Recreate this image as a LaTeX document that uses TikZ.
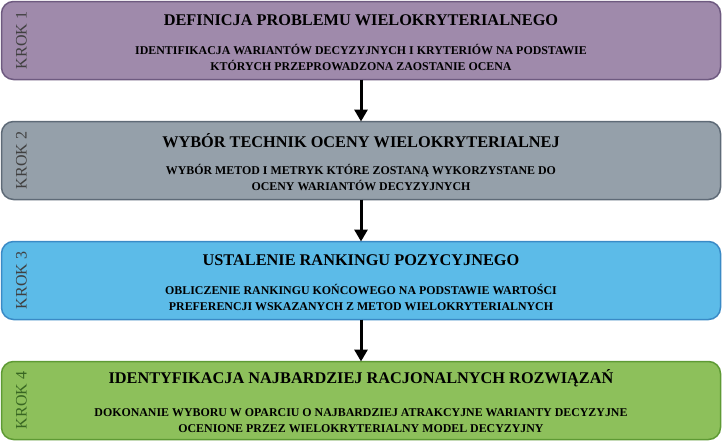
\documentclass[tikz,border=0pt]{standalone}
\usepackage{fontspec}
\setmainfont{Liberation Serif}
\usetikzlibrary{arrows.meta, positioning}

\definecolor{krokA}{HTML}{9F8AAB}
\definecolor{krokAline}{HTML}{6E5A80}
\definecolor{krokB}{HTML}{95A0AA}
\definecolor{krokBline}{HTML}{5E6A77}
\definecolor{krokC}{HTML}{5CBBE8}
\definecolor{krokCline}{HTML}{3A8AC6}
\definecolor{krokD}{HTML}{8DC05B}
\definecolor{krokDline}{HTML}{5E9A34}
\definecolor{krokgray}{HTML}{404040}
\definecolor{krokgreen}{HTML}{386622}

\begin{document}
\begin{tikzpicture}[
    x=1pt, y=1pt,
    node distance=42pt,
    stage/.style={draw, line width=1.5pt, rounded corners=12pt, minimum width=719pt, minimum height=78pt, outer sep=0pt},
    title/.style={font=\bfseries\fontsize{16.3}{19}\selectfont, anchor=center},
    detail/.style={font=\bfseries\fontsize{11.9}{16.5}\selectfont, align=center, anchor=center},
    krok/.style={rotate=90, font=\fontsize{16}{19}\selectfont, text=krokgray},
    arrow/.style={-{Triangle[width=13pt, length=12pt]}, line width=3pt}
]
\useasboundingbox (0,0) rectangle (722,-442);

\node[stage, fill=krokA, draw=krokAline] (step1) at (361,-40.5) {};
\node[stage, fill=krokB, draw=krokBline, below=of step1] (step2) {};
\node[stage, fill=krokC, draw=krokCline, below=of step2] (step3) {};
\node[stage, fill=krokD, draw=krokDline, below=of step3] (step4) {};

\node[krok] (krok1) at ([xshift=20pt]step1.west) {KROK 1};
\node[krok] (krok2) at ([xshift=20pt]step2.west) {KROK 2};
\node[krok] (krok3) at ([xshift=20pt]step3.west) {KROK 3};
\node[krok, text=krokgreen] (krok4) at ([xshift=20pt]step4.west) {KROK 4};

\node[title] (title1) at ([yshift=-19pt]step1.north) {DEFINICJA PROBLEMU WIELOKRYTERIALNEGO};
\node[detail] (detail1) at ([yshift=-56pt]step1.north) {IDENTIFIKACJA WARIANTÓW DECYZYJNYCH I KRYTERIÓW NA PODSTAWIE\\KTÓRYCH PRZEPROWADZONA ZAOSTANIE OCENA};

\node[title] (title2) at ([yshift=-19pt]step2.north) {WYBÓR TECHNIK OCENY WIELOKRYTERIALNEJ};
\node[detail] (detail2) at ([yshift=-56pt]step2.north) {WYBÓR METOD I METRYK KTÓRE ZOSTANĄ WYKORZYSTANE DO\\OCENY WARIANTÓW DECYZYJNYCH};

\node[title] (title3) at ([yshift=-19pt]step3.north) {USTALENIE RANKINGU POZYCYJNEGO};
\node[detail] (detail3) at ([yshift=-56pt]step3.north) {OBLICZENIE RANKINGU KOŃCOWEGO NA PODSTAWIE WARTOŚCI\\PREFERENCJI WSKAZANYCH Z METOD WIELOKRYTERIALNYCH};

\node[title] (title4) at ([yshift=-17pt]step4.north) {IDENTYFIKACJA NAJBARDZIEJ RACJONALNYCH ROZWIĄZAŃ};
\node[detail] (detail4) at ([yshift=-59pt]step4.north) {DOKONANIE WYBORU W OPARCIU O NAJBARDZIEJ ATRAKCYJNE WARIANTY DECYZYJNE\\OCENIONE PRZEZ WIELOKRYTERIALNY MODEL DECYZYJNY};

\draw[arrow] (step1) -- (step2);
\draw[arrow] (step2) -- (step3);
\draw[arrow] (step3) -- (step4);
\end{tikzpicture}
\end{document}
